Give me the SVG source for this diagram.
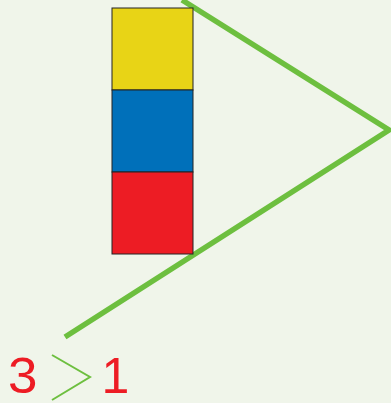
<svg xmlns="http://www.w3.org/2000/svg" width="391" height="403" viewBox="0 0 391 403">
<style>
.bg{fill:#f0f5ea}
.sq{stroke:#222;stroke-width:1}
.gl{fill:none;stroke:#6dbf3f;stroke-width:5.5;stroke-linecap:butt;stroke-linejoin:miter}
.gt{fill:none;stroke:#6dbf3f;stroke-width:2}
.num{font-family:"Liberation Sans",Arial,sans-serif;font-size:50px;fill:#ed1c24}
</style>
<rect class="bg" x="0" y="0" width="391" height="403"/>
<g id="connectors">
<polyline class="gl" points="182,0 389,130 65,337"/>
</g>
<g id="yellow"><rect class="sq" x="112" y="8" width="81" height="82" fill="#e8d416"/></g>
<g id="blue"><rect class="sq" x="112" y="90" width="81" height="82" fill="#0070ba"/></g>
<g id="red"><rect class="sq" x="112" y="172" width="81" height="82" fill="#ed1c24"/></g>
<g id="comparison">
<text class="num" x="8" y="393" transform="translate(8 0) scale(1.06 1) translate(-8 0)">3</text>
<polyline class="gt" points="52,355 90,377 52,400"/>
<text class="num" x="101.5" y="393">1</text>
</g>
</svg>
